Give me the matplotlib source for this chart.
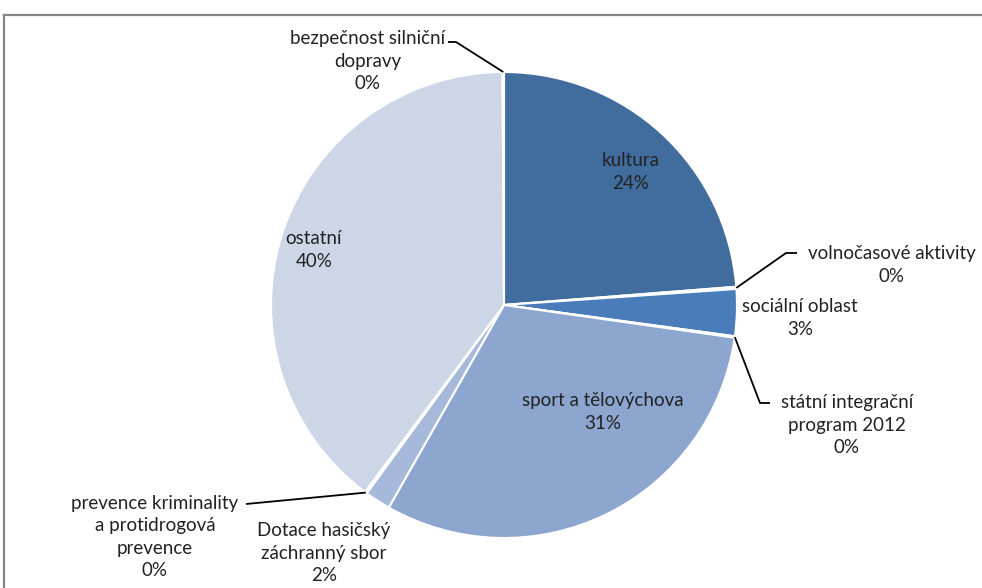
import matplotlib
matplotlib.use("Agg")
import matplotlib.pyplot as plt
import numpy as np

# Share of spending by area (percent)
labels = [
    "kultura",
    "volnočasové aktivity",
    "sociální oblast",
    "státní integrační\nprogram 2012",
    "sport a tělovýchova",
    "Dotace hasičský\nzáchranný sbor",
    "prevence kriminality\na protidrogová\nprevence",
    "ostatní",
    "bezpečnost silniční\ndopravy",
]
values = [23.8, 0.15, 3.25, 0.1, 31.05, 1.8, 0.15, 39.8, 0.1]
colors = ["#416C9E", "#5B86C0", "#4A7CBA", "#7E9CCB", "#8CA6CF",
          "#A7B9DA", "#B8C6E0", "#CCD6E7", "#D9E0EE"]

W, H = 982, 588
fig = plt.figure(figsize=(W / 100, H / 100), dpi=100)
ax = fig.add_axes([0, 0, 1, 1])
ax.set_xlim(0, W)
ax.set_ylim(0, H)
ax.set_aspect("equal")
ax.axis("off")

plt.rcParams["font.family"] = ["Lato", "DejaVu Sans"]


def py(y):
    # pixel row from the top -> data y
    return H - y


cx, cy, r = 504, py(305), 233
wedges, _ = ax.pie(values, colors=colors, startangle=90, counterclock=False,
                   center=(cx, cy), radius=r,
                   wedgeprops=dict(edgecolor="white", linewidth=1.5))
ax.set_xlim(0, W)
ax.set_ylim(0, H)

total = sum(values)
pct = [f"{round(v / total * 100):.0f}%" for v in values]


def edge_point(w):
    a = np.deg2rad((w.theta1 + w.theta2) / 2)
    return cx + r * np.cos(a), cy + r * np.sin(a)


fs = 13.5
tc = "#222222"

# labels placed inside slices
inside = {0: (631, 172), 4: (603, 412), 7: (314, 250)}
for i, (x, y) in inside.items():
    ax.text(x, py(y), labels[i] + "\n" + pct[i], ha="center", va="center",
            fontsize=fs, color=tc, linespacing=1.4)

# sociální oblast sits right outside its slice
ax.text(800, py(318), labels[2] + "\n" + pct[2], ha="center", va="center",
        fontsize=fs, color=tc, linespacing=1.4)

# outside labels with leader lines: (text centre, elbow points)
outside = {
    8: ((368, 61), [(448, 42), (456, 42)]),
    1: ((892, 265), [(797, 253), (786, 253)]),
    3: ((847, 425), [(770, 403), (760, 403)]),
    6: ((155, 537), [(246, 504)]),
    5: ((324, 553), None),
}
for i, ((x, y), elbow) in outside.items():
    ax.text(x, py(y), labels[i] + "\n" + pct[i], ha="center", va="center",
            fontsize=fs, color=tc, linespacing=1.4)
    if elbow:
        ex, ey = edge_point(wedges[i])
        xs = [p[0] for p in elbow] + [ex]
        ys = [py(p[1]) for p in elbow] + [ey]
        ax.plot(xs, ys, color="black", linewidth=1.3, solid_capstyle="butt")

# chart frame (top and left edges visible)
ax.plot([4, W], [py(15), py(15)], color="#868686", linewidth=1.6)
ax.plot([4, 4], [py(15), 0], color="#868686", linewidth=1.6)

fig.savefig("out.png", dpi=100)
